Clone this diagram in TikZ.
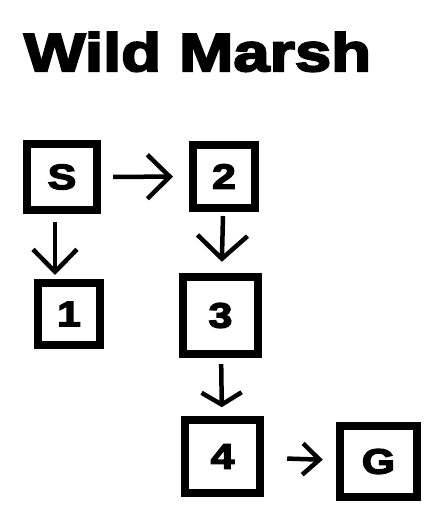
\documentclass[tikz,border=0pt]{standalone}
\usepackage{fontspec}
\newfontfamily\heavyfont{Liberation Sans Bold}[FakeBold=4,FakeStretch=1.22]
\usetikzlibrary{positioning}
\usetikzlibrary{arrows.meta}
\begin{document}
\begin{tikzpicture}[x=0.025cm,y=-0.025cm]
		\tikzset{box/.style = {shape=rectangle,draw,line width=5.7pt,inner sep=0pt,font=\heavyfont\fontsize{25}{25}\selectfont}}
		\tikzset{edge/.style = {-{Straight Barb[length=0.56cm,width=1.1cm]},line width=3.2pt}}
		\useasboundingbox (0,0) rectangle (428,507);
		% title
		\node[anchor=base,inner sep=0pt,font=\heavyfont\fontsize{38}{40}\selectfont] (title) at (197.5,71) {Wild Marsh};
		% vertices
		\node[box, minimum width=1.75cm, minimum height=1.65cm] (S) at (62,177) {S};
		\node[box, minimum width=1.55cm, minimum height=1.575cm] (2) at (224,176.5) {2};
		\node[box, minimum width=1.55cm, minimum height=1.55cm] (1) at (69,314) {1};
		\node[box, minimum width=1.875cm, minimum height=1.925cm] (3) at (220.5,315.5) {3};
		\node[box, minimum width=1.875cm, minimum height=1.825cm] (4) at (222.5,456.5) {4};
		\node[box, minimum width=1.925cm, minimum height=1.775cm] (G) at (378.5,461.5) {G};
		
		%edges
		\draw[edge, shorten <=0.3cm, shorten >=0.4cm] (S) to (2);
		
		\draw[edge, shorten <=0.2cm, shorten >=0.1cm] ([xshift=-0.175cm]S.south) to ([xshift=-0.175cm]S.south |- 1.north);
		
		\draw[edge, -{Straight Barb[length=0.58cm,width=1.25cm]}, shorten <=0.1cm, shorten >=0.28cm] (2) to (3);
		
		\draw[edge, -{Straight Barb[length=0.3cm,width=1cm]}, shorten <=0.15cm, shorten >=0.22cm] (3) to (4);
		
		\draw[edge, -{Straight Barb[length=0.42cm,width=0.78cm]}, shorten <=0.58cm, shorten >=0.33cm] (4) to (G);
		
\end{tikzpicture}
\end{document}
